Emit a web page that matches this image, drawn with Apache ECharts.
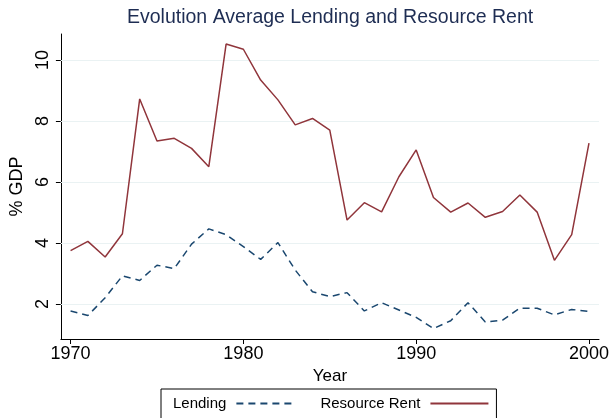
<!DOCTYPE html>
<html>
<head>
<meta charset="utf-8">
<script src="https://cdn.jsdelivr.net/npm/echarts@6/dist/echarts.min.js"></script>
<style>html,body{margin:0;padding:0;background:#fff}#c{width:616px;height:418px}</style>
</head>
<body>
<div id="c"></div>
<script>
const years = [1970,1971,1972,1973,1974,1975,1976,1977,1978,1979,1980,1981,1982,1983,1984,1985,1986,1987,1988,1989,1990,1991,1992,1993,1994,1995,1996,1997,1998,1999,2000];
const lending = [1.77,1.62,2.2,2.92,2.77,3.27,3.16,3.96,4.46,4.27,3.88,3.46,4.01,3.11,2.40,2.24,2.37,1.77,2.04,1.80,1.56,1.19,1.45,2.04,1.41,1.47,1.86,1.86,1.64,1.82,1.75];
const resourceRent = [3.75,4.05,3.54,4.30,8.72,7.34,7.43,7.10,6.50,10.52,10.35,9.34,8.69,7.87,8.08,7.70,4.75,5.32,5.02,6.17,7.05,5.49,5.01,5.31,4.84,5.03,5.57,5.01,3.43,4.27,7.27];
const xTicks = [1970,1980,1990,2000];
const yTicks = [2,4,6,8,10];

const font = 'Liberation Sans, Arial, Helvetica, sans-serif';
const chart = echarts.init(document.getElementById('c'), null, {renderer:'canvas'});
chart.setOption({
  animation: false,
  backgroundColor: '#ffffff',
  title: {
    text: 'Evolution Average Lending and Resource Rent',
    left: 127, top: 8, padding: 0,
    textStyle: {fontFamily: font, fontSize: 19.5, fontWeight: 'normal', color: '#1e2d53'}
  },
  legend: {
    left: 161, top: 389,
    align: 'right',
    itemWidth: 58, itemHeight: 14, itemGap: 25,
    padding: [7, 7, 14, 12],
    borderColor: '#000', borderWidth: 1, borderRadius: 0,
    backgroundColor: '#fff',
    itemStyle: {opacity: 0},
    textStyle: {fontFamily: font, fontSize: 15, color: '#000', padding: [0, 5, 0, 0]},
    data: ['Lending', 'Resource Rent']
  },
  grid: {left: 59, right: 17, top: 34, bottom: 79, containLabel: false},
  xAxis: {
    type: 'value', min: 1969.44, max: 2000.58,
    name: 'Year', nameLocation: 'middle', nameGap: 23,
    nameTextStyle: {fontFamily: font, fontSize: 17, color: '#000'},
    axisLine: {show: true, onZero: false, lineStyle: {color: '#000', width: 1}},
    axisTick: {show: true, length: 5, lineStyle: {color: '#000'}, customValues: xTicks},
    axisLabel: {fontFamily: font, fontSize: 18, color: '#000', margin: 6, customValues: xTicks, formatter: v => String(v)},
    splitLine: {show: false}
  },
  yAxis: {
    type: 'value', min: 0.85, max: 10.85,
    name: '% GDP', nameLocation: 'middle', nameGap: 33, nameRotate: 90,
    nameTextStyle: {fontFamily: font, fontSize: 18, color: '#000'},
    axisLine: {show: true, onZero: false, lineStyle: {color: '#000', width: 1}},
    axisTick: {show: true, length: 5, lineStyle: {color: '#000'}, customValues: yTicks},
    axisLabel: {fontFamily: font, fontSize: 18, color: '#000', rotate: 90, margin: 9, customValues: yTicks},
    splitLine: {show: false}
  },
  series: [
    {
      name: 'Lending', type: 'line', symbol: 'none',
      data: years.map((y, i) => [y, lending[i]]),
      lineStyle: {color: '#1a476f', width: 1.5, type: [7, 5]},
      itemStyle: {color: '#1a476f'},
      markLine: {
        silent: true, symbol: 'none', label: {show: false},
        lineStyle: {color: '#eaf2f3', width: 1, type: 'solid'},
        z: 1,
        data: yTicks.map(v => ({yAxis: v}))
      },
      z: 3
    },
    {
      name: 'Resource Rent', type: 'line', symbol: 'none',
      data: years.map((y, i) => [y, resourceRent[i]]),
      lineStyle: {color: '#90353b', width: 1.5, type: 'solid'},
      itemStyle: {color: '#90353b'},
      z: 3
    }
  ]
});
</script>
</body>
</html>
